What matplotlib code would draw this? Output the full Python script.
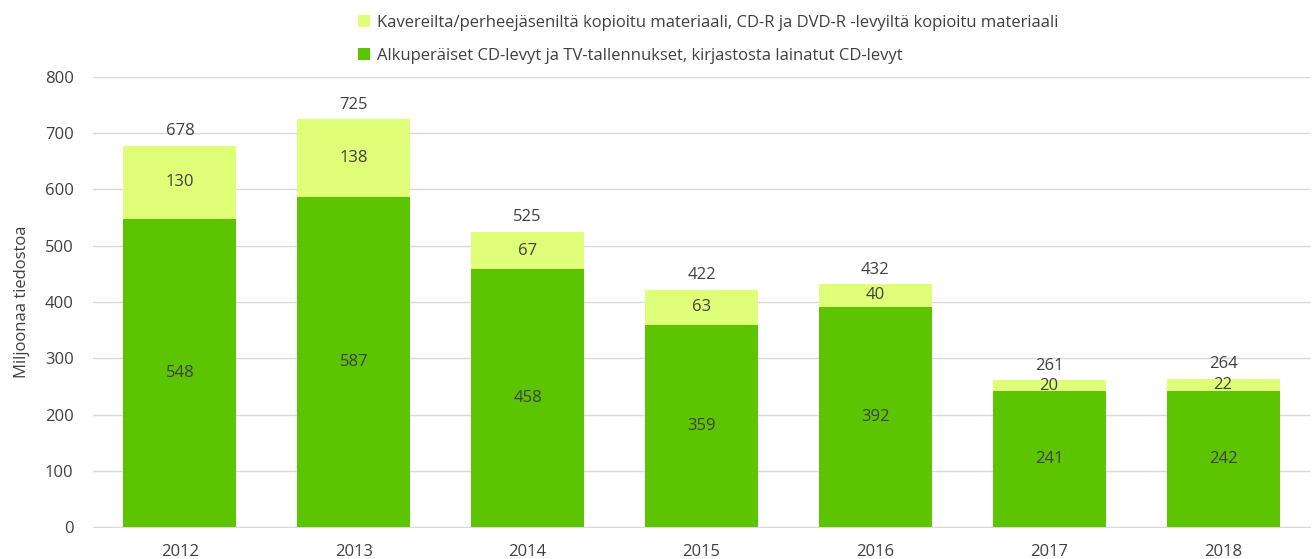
import matplotlib
matplotlib.use("Agg")
import matplotlib.pyplot as plt
import numpy as np

years = ["2012", "2013", "2014", "2015", "2016", "2017", "2018"]
original = [548, 587, 458, 359, 392, 241, 242]
copied = [130, 138, 67, 63, 40, 20, 22]
totals = [678, 725, 525, 422, 432, 261, 264]

label_copied = "Kavereilta/perheejäseniltä kopioitu materiaali, CD-R ja DVD-R -levyiltä kopioitu materiaali"
label_orig = "Alkuperäiset CD-levyt ja TV-tallennukset, kirjastosta lainatut CD-levyt"

dark = "#5CC400"
light = "#DFFF78"
txt = "#404040"

plt.rcParams['font.family'] = ['Open Sans', 'DejaVu Sans']

fig = plt.figure(figsize=(13.16, 5.59), dpi=100)
ax = fig.add_axes([0.0707, 0.0572, 0.9247, 0.8051])

x = np.arange(len(years))
w = 0.65
b1 = ax.bar(x, original, w, color=dark, label=label_orig, zorder=3)
b2 = ax.bar(x, copied, w, bottom=original, color=light, label=label_copied, zorder=3)

for i in range(len(years)):
    ax.text(x[i], original[i] / 2, str(original[i]), ha='center', va='center', fontsize=12, color=txt, zorder=4)
    ax.text(x[i], original[i] + copied[i] / 2, str(copied[i]), ha='center', va='center', fontsize=12, color=txt, zorder=4)
    ax.text(x[i], totals[i] + 11, str(totals[i]), ha='center', va='bottom', fontsize=12, color=txt, zorder=4)

ax.set_xlim(-0.5, len(years) - 0.5)
ax.set_ylim(0, 800)
ax.set_yticks(range(0, 801, 100))
ax.set_xticks(x)
ax.set_xticklabels(years)
ax.tick_params(axis='both', length=0, labelsize=12, colors=txt)
ax.tick_params(axis='x', pad=12)
ax.tick_params(axis='y', pad=14)
ax.grid(axis='y', color='#D9D9D9', linewidth=1, zorder=0)
for s in ['top', 'right', 'left']:
    ax.spines[s].set_visible(False)
ax.spines['bottom'].set_color('#D9D9D9')
ax.set_ylabel("Miljoonaa tiedostoa", fontsize=12, color=txt)
ax.yaxis.set_label_coords(-0.052, 0.5)

leg = fig.legend(handles=[b2, b1], labels=[label_copied, label_orig], loc='upper left',
                 bbox_to_anchor=(0.261, 1.0), frameon=False, fontsize=12,
                 handlelength=0.7, handleheight=0.7, handletextpad=0.4, labelspacing=1.0)
for t in leg.get_texts():
    t.set_color(txt)

fig.savefig("out.png", dpi=100)
